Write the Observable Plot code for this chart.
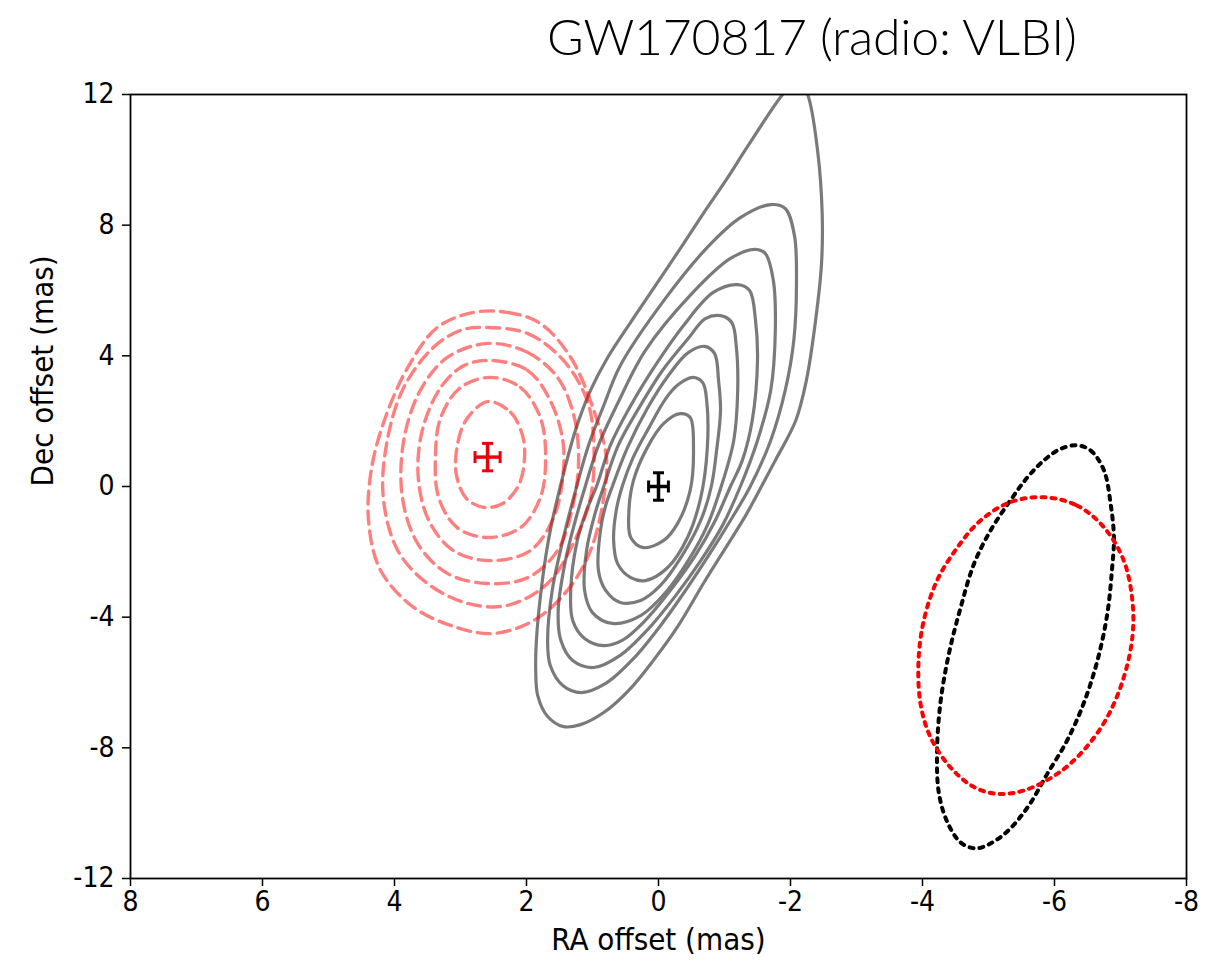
<!DOCTYPE html>
<html>
<head>
<meta charset="utf-8">
<script src="https://cdn.jsdelivr.net/npm/d3@7"></script>
<script src="https://cdn.jsdelivr.net/npm/@observablehq/plot@0.6"></script>
<style>
  html, body { margin: 0; padding: 0; background: #fff; }
  #title { display: block; }
</style>
</head>
<body>
<svg id="title" width="1218" height="80">
  <text x="547" y="55" font-family="Lato" font-weight="300" font-size="50" fill="#000" textLength="530" lengthAdjust="spacing">GW170817 (radio: VLBI)</text>
</svg>
<div id="chart"></div>
<script>
// ---- axis ticks ----
const xTicks = [8, 6, 4, 2, 0, -2, -4, -6, -8];
const yTicks = [-12, -8, -4, 0, 4, 8, 12];

// ---- grey solid contours (RA, Dec in mas), outermost first ----
const gray1 = [[-2.11,12.49],[-2.26,12.00],[-2.41,10.29],[-2.48,8.36],[-2.47,6.83],[-2.38,5.08],[-2.24,3.24],[-2.08,2.02],[-1.77,0.80],[-1.56,0.00],[-1.32,-0.89],[-1.06,-1.74],[-0.68,-2.97],[-0.30,-4.26],[0.08,-5.33],[0.45,-6.24],[0.83,-6.92],[1.18,-7.29],[1.44,-7.35],[1.68,-7.04],[1.83,-6.40],[1.86,-5.63],[1.85,-4.71],[1.76,-2.88],[1.64,-1.35],[1.45,0.31],[1.26,1.71],[1.03,2.94],[0.77,3.95],[0.27,5.48],[-0.21,6.92],[-0.68,8.36],[-1.02,9.37],[-1.36,10.44],[-1.88,12.00]];
const gray2 = [[-1.70,8.63],[-1.92,8.51],[-2.06,7.68],[-2.09,6.15],[-2.05,4.47],[-1.92,2.94],[-1.70,1.41],[-1.39,0],[-1.09,-1.04],[-0.76,-2.11],[-0.41,-3.18],[-0.03,-4.26],[0.38,-5.27],[0.80,-6.03],[1.17,-6.31],[1.45,-6.09],[1.64,-5.48],[1.68,-4.71],[1.61,-3.18],[1.45,-1.65],[1.24,0],[1.06,1.26],[0.83,2.48],[0.58,3.70],[-0.08,5.69],[-0.74,7.32],[-1.24,8.23]];
const gray3 = [[-1.47,7.26],[-1.62,7.13],[-1.74,6.31],[-1.77,4.78],[-1.70,2.94],[-1.50,1.41],[-1.24,0],[-0.97,-1.19],[-0.64,-2.27],[-0.26,-3.34],[0.15,-4.35],[0.58,-5.17],[0.98,-5.54],[1.30,-5.33],[1.48,-4.71],[1.52,-3.80],[1.41,-2.27],[1.26,-1.04],[1.11,0],[0.91,1.26],[0.62,2.54],[0.20,4.16],[-0.48,5.85],[-1.09,6.98]];
const gray4 = [[-1.20,6.18],[-1.38,6.00],[-1.47,5.08],[-1.50,3.86],[-1.42,2.02],[-1.27,0.80],[-1.09,0],[-0.86,-1.04],[-0.56,-2.11],[-0.18,-3.18],[0.20,-4.10],[0.55,-4.71],[0.83,-4.87],[1.12,-4.65],[1.30,-4.10],[1.33,-3.18],[1.23,-1.65],[1.09,-0.73],[0.94,0],[0.73,1.26],[0.42,2.48],[0.05,3.70],[-0.38,4.93],[-0.83,5.94]];
const gray5 = [[-0.94,5.23],[-1.11,5.02],[-1.18,4.26],[-1.20,2.94],[-1.14,1.41],[-0.95,0],[-0.74,-1.19],[-0.45,-2.27],[-0.11,-3.24],[0.27,-3.95],[0.70,-4.19],[1.00,-3.86],[1.12,-3.18],[1.09,-1.96],[0.97,-0.89],[0.83,0],[0.61,1.26],[0.30,2.39],[-0.06,3.55],[-0.45,4.53],[-0.71,5.14]];
const gray6 = [[-0.70,4.29],[-0.85,4.07],[-0.91,3.24],[-0.94,2.33],[-0.88,1.10],[-0.80,0],[-0.64,-1.04],[-0.36,-2.11],[-0.03,-3.03],[0.27,-3.49],[0.58,-3.55],[0.80,-3.18],[0.91,-2.57],[0.88,-1.35],[0.80,-0.58],[0.70,0],[0.47,1.19],[0.17,2.39],[-0.15,3.40],[-0.45,4.10]];
const gray7 = [[-0.52,3.34],[-0.67,3.18],[-0.73,2.63],[-0.74,1.19],[-0.64,-0.34],[-0.44,-1.56],[-0.14,-2.48],[0.20,-2.88],[0.42,-2.79],[0.62,-2.36],[0.68,-1.65],[0.64,-0.73],[0.55,0],[0.39,0.86],[0.15,1.78],[-0.11,2.69],[-0.30,3.12]];
const gray8 = [[-0.33,2.23],[-0.48,2.11],[-0.53,1.19],[-0.48,-0.12],[-0.29,-1.13],[-0.08,-1.65],[0.23,-1.87],[0.42,-1.56],[0.45,-0.83],[0.38,0.18],[0.17,1.19],[-0.08,1.93]];

// ---- red dashed contours, innermost first ----
const red1 = [[2.59,2.60],[2.24,2.27],[2.06,1.56],[2.03,0.86],[2.12,0.03],[2.36,-0.52],[2.64,-0.64],[2.91,-0.37],[3.06,0.34],[3.06,1.10],[2.92,2.02]];
const red2 = [[2.55,3.34],[2.09,3.03],[1.79,2.11],[1.71,0.89],[1.79,-0.34],[2.09,-1.26],[2.59,-1.56],[3.05,-1.26],[3.33,-0.34],[3.38,0.89],[3.30,2.11],[3.00,3.03]];
const red3 = [[2.55,3.86],[1.98,3.55],[1.64,2.63],[1.45,1.41],[1.45,0.28],[1.59,-0.95],[1.94,-1.96],[2.55,-2.27],[3.11,-1.96],[3.48,-1.04],[3.64,0.28],[3.58,1.71],[3.30,3.03],[2.95,3.70]];
const red4 = [[2.59,4.38],[1.98,4.10],[1.53,3.34],[1.29,2.23],[1.21,0.89],[1.29,-0.52],[1.53,-1.96],[1.98,-2.79],[2.59,-2.97],[3.20,-2.66],[3.65,-1.74],[3.88,-0.34],[3.86,1.41],[3.61,2.94],[3.20,3.95]];
const red5 = [[2.65,4.87],[1.98,4.68],[1.44,3.86],[1.08,2.63],[0.98,1.32],[1.03,-0.34],[1.29,-1.74],[1.68,-2.97],[2.29,-3.64],[2.89,-3.58],[3.50,-2.97],[3.95,-1.96],[4.17,-0.34],[4.11,1.41],[3.86,3.03],[3.41,4.26],[3.00,4.78]];
const red6 = [[2.80,5.33],[2.29,5.33],[1.79,4.99],[1.33,3.95],[0.98,2.33],[0.79,0.89],[0.83,-0.34],[1.03,-1.96],[1.38,-3.18],[1.89,-4.10],[2.50,-4.50],[3.05,-4.32],[3.71,-3.70],[4.21,-2.57],[4.39,-1.13],[4.36,0.40],[4.17,1.93],[3.80,3.64],[3.35,4.87]];

// ---- dotted ellipses (lower right) ----
const blackEllipse = [[-6.34,1.26],[-6.55,1.10],[-6.75,0.49],[-6.85,-0.53],[-6.90,-1.55],[-6.87,-2.57],[-6.80,-3.90],[-6.65,-5.33],[-6.44,-6.65],[-6.19,-7.78],[-5.89,-8.80],[-5.61,-9.77],[-5.30,-10.53],[-5.03,-10.93],[-4.80,-11.08],[-4.58,-10.90],[-4.38,-10.29],[-4.25,-9.41],[-4.22,-8.18],[-4.27,-6.65],[-4.40,-5.12],[-4.58,-3.69],[-4.78,-2.37],[-5.03,-1.35],[-5.33,-0.43],[-5.59,0.28],[-5.84,0.80],[-6.09,1.15]];
const redEllipse = [[-5.84,-0.33],[-6.34,-0.58],[-6.75,-1.25],[-7.05,-2.27],[-7.18,-3.49],[-7.18,-4.61],[-7.05,-5.84],[-6.80,-7.06],[-6.44,-8.08],[-6.04,-8.80],[-5.53,-9.31],[-5.13,-9.41],[-4.78,-9.20],[-4.42,-8.59],[-4.12,-7.67],[-3.97,-6.65],[-3.94,-5.33],[-4.02,-4.10],[-4.22,-2.88],[-4.53,-1.86],[-4.88,-1.04],[-5.33,-0.48]];

// ---- positions with error bars ----
const pointNames = ["red", "black"];
const pointX = [2.59, 0.0];
const pointY = [0.90, 0.0];
const pointXErr = [0.19, 0.15];
const pointYErr = [0.42, 0.42];
const pointColors = ["#e8000b", "#000000"];

// ---- build tables ----
const toRows = (pts, id) => pts.map(([x, y]) => ({x, y, id}));
const grayRows = [gray1, gray2, gray3, gray4, gray5, gray6, gray7, gray8].flatMap((r, i) => toRows(r, "g" + i));
const redRows = [red1, red2, red3, red4, red5, red6].flatMap((r, i) => toRows(r, "r" + i));
const blackEllRows = toRows(blackEllipse, "be");
const redEllRows = toRows(redEllipse, "re");

const pts = pointNames.map((n, i) => ({
  n, x: pointX[i], y: pointY[i], ex: pointXErr[i], ey: pointYErr[i], c: pointColors[i]
}));
const vCaps = pts.flatMap(p => [{x: p.x - p.ex, y: p.y, c: p.c}, {x: p.x + p.ex, y: p.y, c: p.c}]);
const hCaps = pts.flatMap(p => [{x: p.x, y: p.y - p.ey, c: p.c}, {x: p.x, y: p.y + p.ey, c: p.c}]);

const vSym = {draw(ctx, size) { const r = Math.sqrt(size / Math.PI); ctx.moveTo(0, -r); ctx.lineTo(0, r); }};
const hSym = {draw(ctx, size) { const r = Math.sqrt(size / Math.PI); ctx.moveTo(-r, 0); ctx.lineTo(r, 0); }};

const fmt = d => String(d);
const FONT = "'DejaVu Sans Condensed', 'DejaVu Sans', sans-serif";

const chart = Plot.plot({
  width: 1218,
  height: 886,
  marginTop: 14,
  marginBottom: 88,
  marginLeft: 130,
  marginRight: 32,
  style: {fontFamily: FONT, fontSize: "28px", color: "#000", background: "#fff", overflow: "visible"},
  x: {domain: [8, -8]},
  y: {domain: [-12, 12]},
  marks: [
    Plot.line(grayRows, {x: "x", y: "y", z: "id", curve: "catmull-rom-closed", stroke: "#7a7a7a", strokeWidth: 3.2, clip: true}),
    Plot.line(redRows, {x: "x", y: "y", z: "id", curve: "catmull-rom-closed", stroke: "#ff0000", strokeOpacity: 0.5, strokeWidth: 3.4, strokeDasharray: "13,7", clip: true}),
    Plot.line(blackEllRows, {x: "x", y: "y", z: "id", curve: "catmull-rom-closed", stroke: "#000", strokeWidth: 4, strokeDasharray: "4,6"}),
    Plot.line(redEllRows, {x: "x", y: "y", z: "id", curve: "catmull-rom-closed", stroke: "#ff0000", strokeWidth: 4, strokeDasharray: "4,6"}),
    Plot.link(pts, {x1: d => d.x - d.ex, x2: d => d.x + d.ex, y1: "y", y2: "y", stroke: "c", strokeWidth: 3.5}),
    Plot.link(pts, {x1: "x", x2: "x", y1: d => d.y - d.ey, y2: d => d.y + d.ey, stroke: "c", strokeWidth: 3.5}),
    Plot.dot(vCaps, {x: "x", y: "y", symbol: vSym, r: 6, stroke: "c", strokeWidth: 3, fill: "none"}),
    Plot.dot(hCaps, {x: "x", y: "y", symbol: hSym, r: 5.5, stroke: "c", strokeWidth: 3, fill: "none"}),
    Plot.frame({stroke: "#000", strokeWidth: 1.8}),
    Plot.axisX({ticks: xTicks, tickFormat: fmt, tickSize: 8, tickPadding: 5, label: null, fontSize: 28, fontFamily: FONT, strokeWidth: 1.5}),
    Plot.axisY({ticks: yTicks, tickFormat: fmt, tickSize: 8, tickPadding: 8, label: null, fontSize: 28, fontFamily: FONT, strokeWidth: 1.5}),
    Plot.text(["RA offset (mas)"], {frameAnchor: "bottom", dy: 71, fontSize: 31, fontFamily: FONT, fill: "#000"}),
    Plot.text(["Dec offset (mas)"], {frameAnchor: "left", dx: -87, rotate: -90, fontSize: 31, fontFamily: FONT, fill: "#000"})
  ]
});
document.getElementById("chart").appendChild(chart);
</script>
</body>
</html>
